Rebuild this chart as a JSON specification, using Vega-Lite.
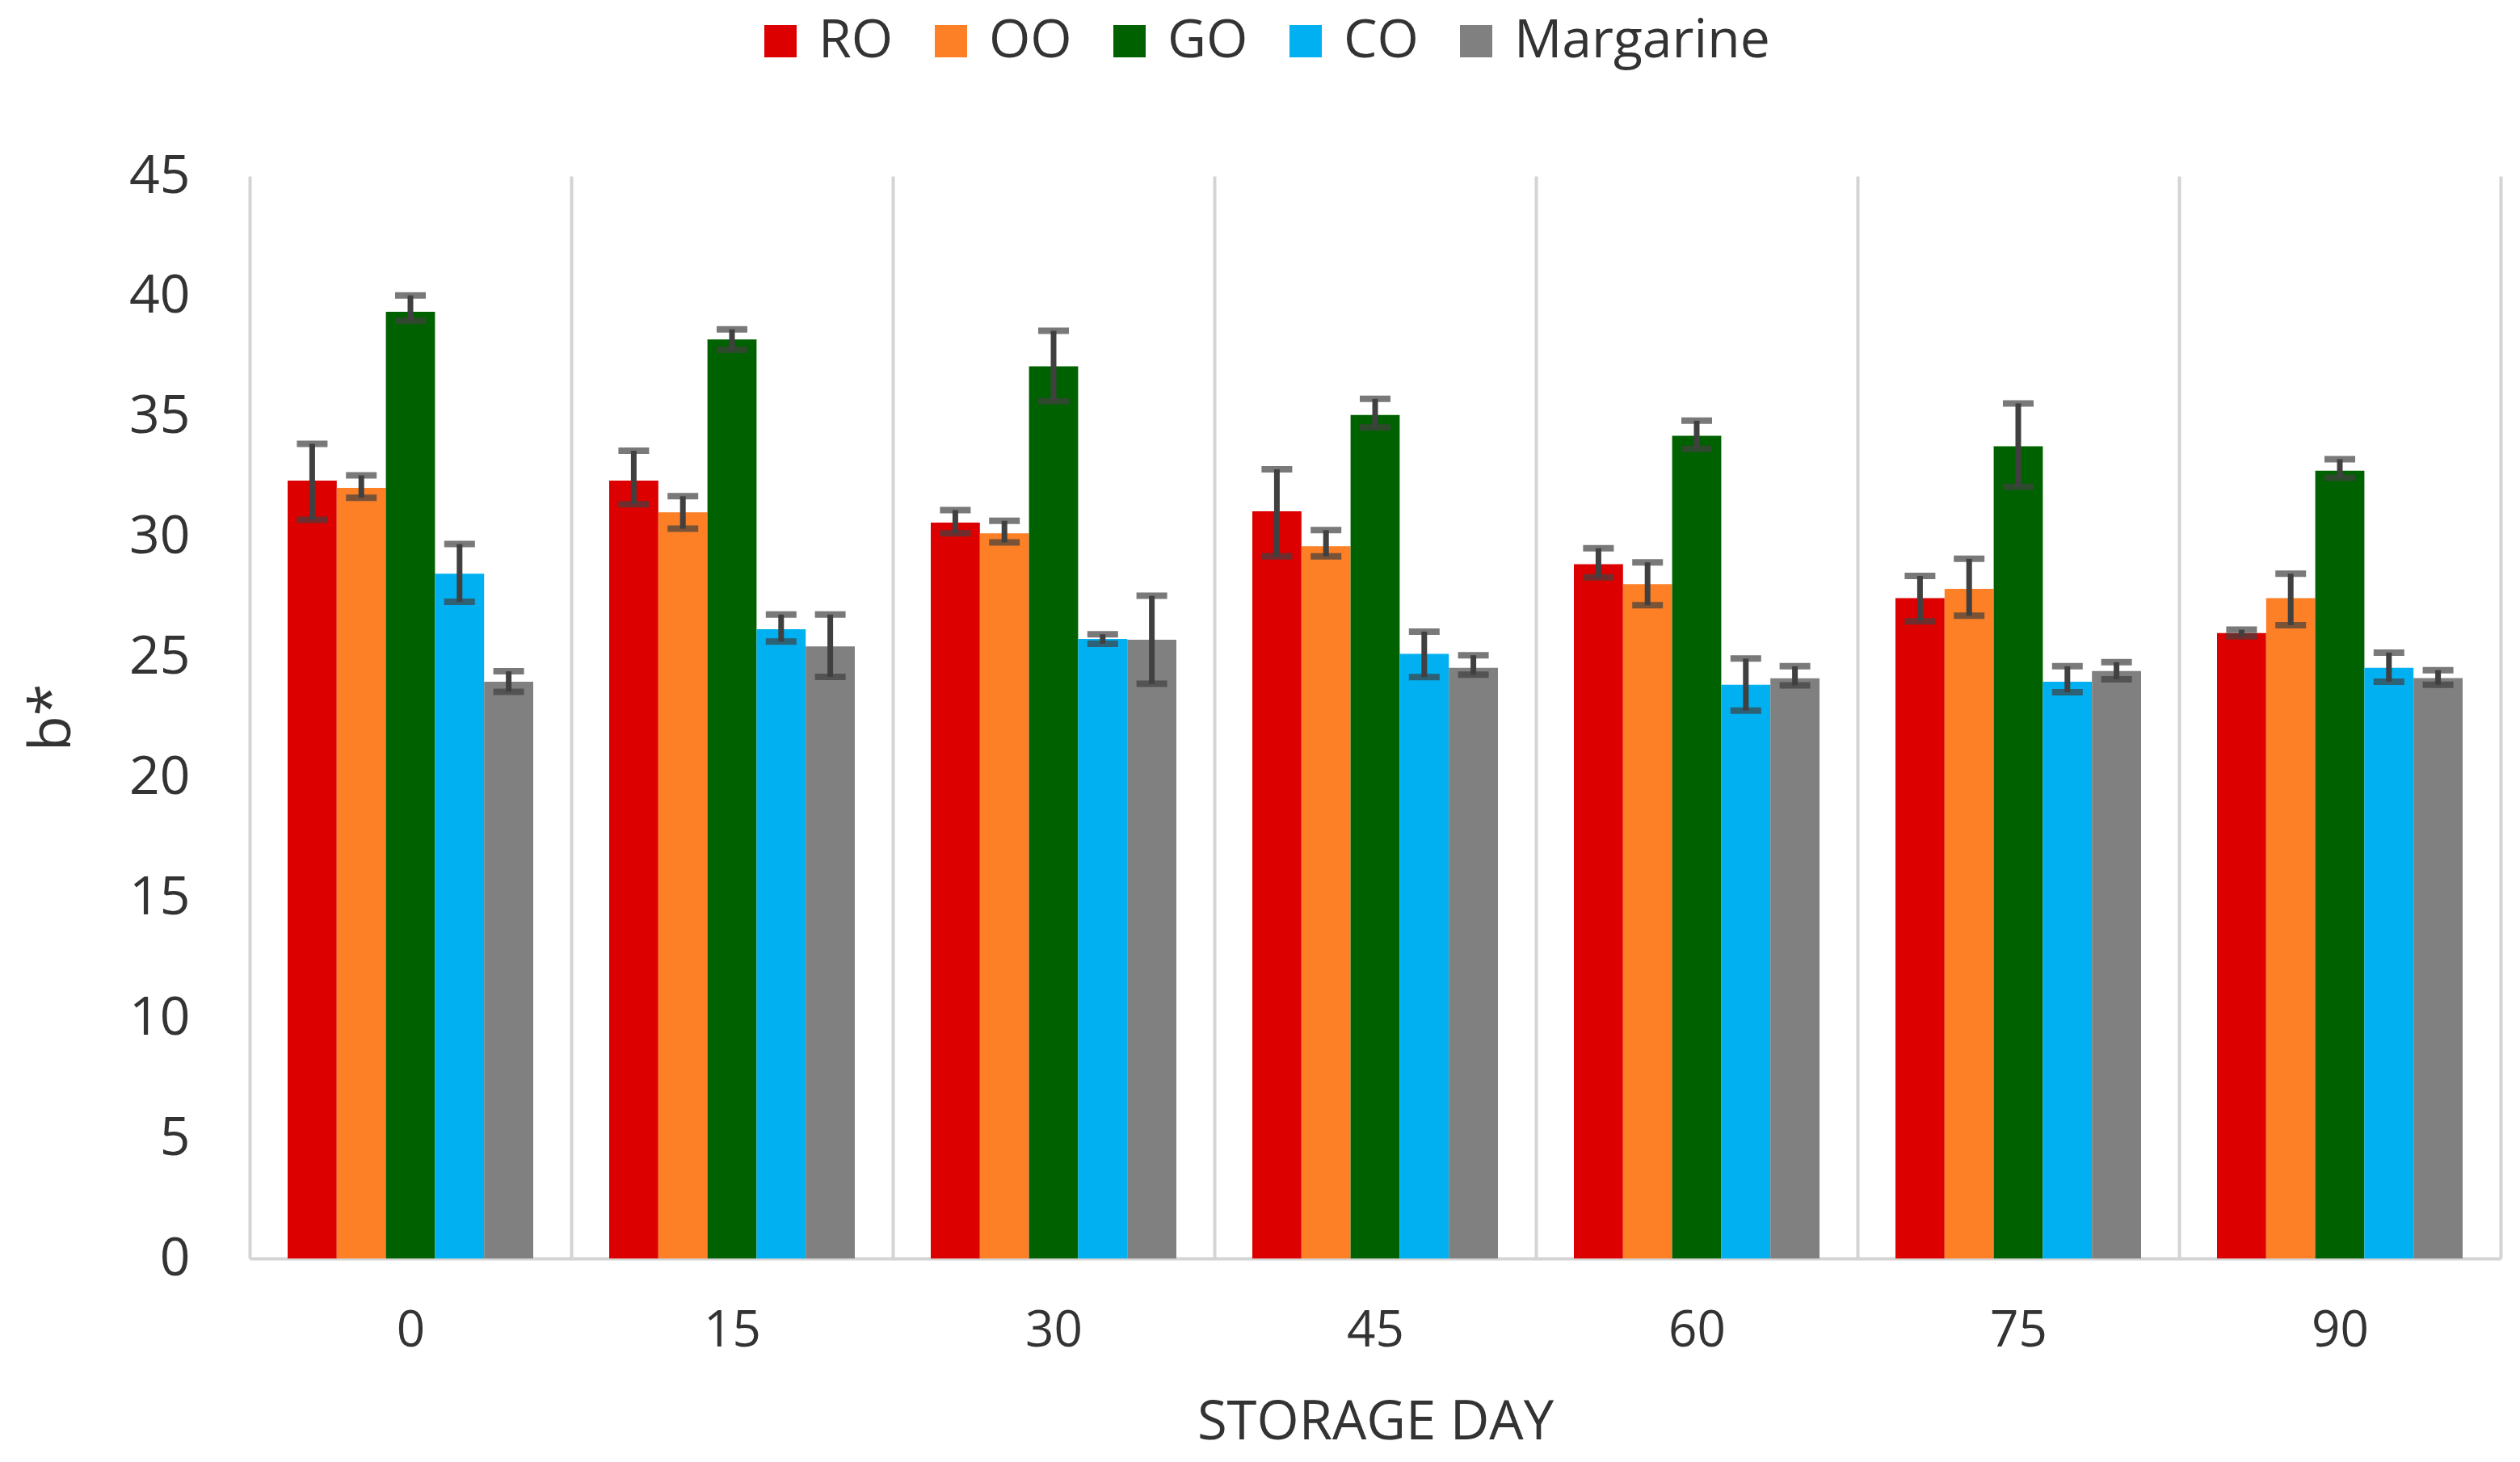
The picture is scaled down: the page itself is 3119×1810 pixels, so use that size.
{
  "$schema": "https://vega.github.io/schema/vega-lite/v6.json",
  "autosize": {"type": "none"},
  "width": 2786,
  "height": 1340,
  "padding": {"left": 309, "top": 218, "right": 24, "bottom": 252},
  "background": "white",
  "config": {
    "font": "Open Sans",
    "view": {"stroke": null},
    "axis": {"labelColor": "#333333", "titleColor": "#333333", "titleFontWeight": "normal"}
  },
  "data": {"values": [
    {"day": "0", "oil": "RO", "b": 32.34, "lo": 30.71, "hi": 33.87},
    {"day": "0", "oil": "OO", "b": 32.04, "lo": 31.63, "hi": 32.56},
    {"day": "0", "oil": "GO", "b": 39.36, "lo": 38.98, "hi": 40.04},
    {"day": "0", "oil": "CO", "b": 28.47, "lo": 27.30, "hi": 29.70},
    {"day": "0", "oil": "Margarine", "b": 23.98, "lo": 23.56, "hi": 24.41},
    {"day": "15", "oil": "RO", "b": 32.34, "lo": 31.36, "hi": 33.58},
    {"day": "15", "oil": "OO", "b": 31.02, "lo": 30.34, "hi": 31.69},
    {"day": "15", "oil": "GO", "b": 38.21, "lo": 37.78, "hi": 38.63},
    {"day": "15", "oil": "CO", "b": 26.16, "lo": 25.65, "hi": 26.77},
    {"day": "15", "oil": "Margarine", "b": 25.45, "lo": 24.18, "hi": 26.77},
    {"day": "30", "oil": "RO", "b": 30.59, "lo": 30.15, "hi": 31.11},
    {"day": "30", "oil": "OO", "b": 30.15, "lo": 29.77, "hi": 30.67},
    {"day": "30", "oil": "GO", "b": 37.09, "lo": 35.64, "hi": 38.57},
    {"day": "30", "oil": "CO", "b": 25.76, "lo": 25.56, "hi": 25.95},
    {"day": "30", "oil": "Margarine", "b": 25.72, "lo": 23.89, "hi": 27.55},
    {"day": "45", "oil": "RO", "b": 31.06, "lo": 29.19, "hi": 32.81},
    {"day": "45", "oil": "OO", "b": 29.61, "lo": 29.19, "hi": 30.28},
    {"day": "45", "oil": "GO", "b": 35.07, "lo": 34.55, "hi": 35.74},
    {"day": "45", "oil": "CO", "b": 25.14, "lo": 24.17, "hi": 26.06},
    {"day": "45", "oil": "Margarine", "b": 24.56, "lo": 24.27, "hi": 25.08},
    {"day": "60", "oil": "RO", "b": 28.86, "lo": 28.32, "hi": 29.53},
    {"day": "60", "oil": "OO", "b": 28.03, "lo": 27.16, "hi": 28.94},
    {"day": "60", "oil": "GO", "b": 34.20, "lo": 33.66, "hi": 34.83},
    {"day": "60", "oil": "CO", "b": 23.85, "lo": 22.78, "hi": 24.94},
    {"day": "60", "oil": "Margarine", "b": 24.12, "lo": 23.83, "hi": 24.62},
    {"day": "75", "oil": "RO", "b": 27.45, "lo": 26.49, "hi": 28.38},
    {"day": "75", "oil": "OO", "b": 27.84, "lo": 26.72, "hi": 29.09},
    {"day": "75", "oil": "GO", "b": 33.77, "lo": 32.08, "hi": 35.55},
    {"day": "75", "oil": "CO", "b": 23.98, "lo": 23.54, "hi": 24.62},
    {"day": "75", "oil": "Margarine", "b": 24.42, "lo": 24.08, "hi": 24.79},
    {"day": "90", "oil": "RO", "b": 26.00, "lo": 25.87, "hi": 26.14},
    {"day": "90", "oil": "OO", "b": 27.45, "lo": 26.33, "hi": 28.47},
    {"day": "90", "oil": "GO", "b": 32.75, "lo": 32.46, "hi": 33.23},
    {"day": "90", "oil": "CO", "b": 24.56, "lo": 23.98, "hi": 25.19},
    {"day": "90", "oil": "Margarine", "b": 24.13, "lo": 23.85, "hi": 24.46}
  ]},
  "encoding": {
    "x": {
      "field": "day", "type": "nominal", "sort": ["0", "15", "30", "45", "60", "75", "90"],
      "scale": {"paddingInner": 0, "paddingOuter": 0},
      "axis": {
        "title": "STORAGE DAY", "titleFontSize": 67, "titlePadding": 50,
        "labelFontSize": 62, "labelAngle": 0, "labelPadding": 59,
        "ticks": false, "tickSize": 0, "tickBand": "extent",
        "grid": true, "gridColor": "#d4d4d4", "gridWidth": 4,
        "domain": true, "domainColor": "#d4d4d4", "domainWidth": 4
      }
    },
    "xOffset": {
      "field": "oil", "type": "nominal",
      "sort": ["RO", "OO", "GO", "CO", "Margarine"],
      "scale": {"domain": ["RO", "OO", "GO", "CO", "Margarine"], "paddingInner": 0, "paddingOuter": 0.773}
    }
  },
  "layer": [
    {
      "mark": {"type": "bar"},
      "encoding": {
        "y": {
          "field": "b", "type": "quantitative",
          "scale": {"domain": [0, 45], "nice": false},
          "axis": {
            "title": "b*", "titleFontSize": 72, "titlePadding": 58,
            "labelFontSize": 66, "labelPadding": 74, "ticks": false, "tickSize": 0,
            "domain": false, "grid": false, "values": [0, 5, 10, 15, 20, 25, 30, 35, 40, 45]
          }
        },
        "color": {
          "field": "oil", "type": "nominal",
          "scale": {"domain": ["RO", "OO", "GO", "CO", "Margarine"], "range": ["#dd0000", "#fd7f26", "#006100", "#00b0f0", "#808080"]},
          "legend": {
            "title": null, "orient": "none", "legendX": 624, "legendY": -200,
            "direction": "horizontal", "symbolType": "square", "symbolSize": 1600,
            "symbolStrokeWidth": 0, "labelFontSize": 66, "labelOffset": 14,
            "columnPadding": 38, "padding": 0, "labelColor": "#333333", "labelLimit": 1000
          }
        }
      }
    },
    {
      "mark": {"type": "rule", "color": "#404040", "strokeWidth": 7},
      "encoding": {
        "y": {"field": "lo", "type": "quantitative"},
        "y2": {"field": "hi"}
      }
    },
    {
      "mark": {"type": "tick", "color": "#404040", "size": 38, "thickness": 8, "orient": "horizontal"},
      "encoding": {"y": {"field": "lo", "type": "quantitative"}}
    },
    {
      "mark": {"type": "tick", "color": "#404040", "size": 38, "thickness": 8, "orient": "horizontal"},
      "encoding": {"y": {"field": "hi", "type": "quantitative"}}
    }
  ]
}
